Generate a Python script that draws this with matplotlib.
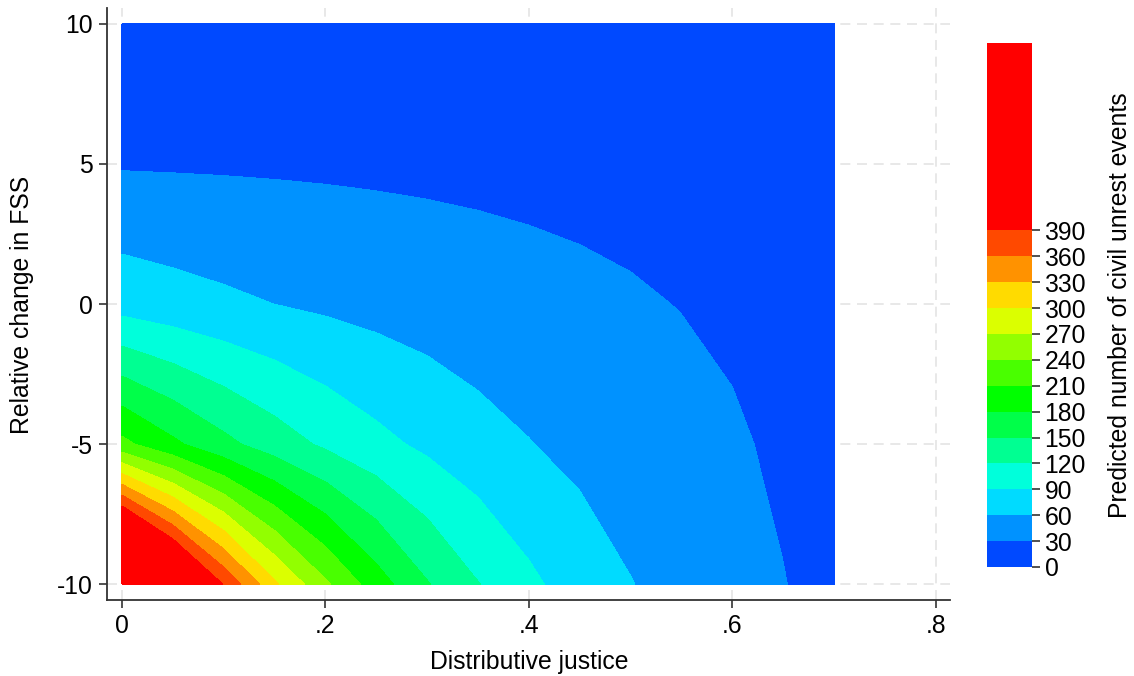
import numpy as np
from matplotlib import pyplot as plt

plt.rcParams['font.family'] = ['Liberation Sans', 'DejaVu Sans']
plt.rcParams['axes.unicode_minus'] = False

# grid of the prediction: distributive justice (columns) x relative change in FSS (rows)
justice = [0, .05, .1, .15, .2, .25, .3, .35, .4, .45, .5, .55, .6, .65, .7]
fss_change = [-10, -5, 0, 5, 10]

pred_fss_m10 = [607, 487, 388, 305, 245, 194, 152, 121, 96, 76, 61, 48, 38, 30.5, 24]
pred_fss_m5 = [218, 186, 158, 135, 115, 98, 84, 71, 61, 52, 44, 37.5, 32, 27.3, 23]
pred_fss_0 = [78, 71.4, 65.4, 59.9, 54.8, 50.2, 46.0, 42.1, 38.5, 35.3, 32.3, 29.4, 27.1, 24.8, 22.7]
pred_fss_5 = [27.6, 27.2, 26.8, 26.3, 25.8, 25.2, 24.6, 24.0, 23.4, 22.8, 22.3, 21.7, 21.2, 20.6, 20.1]
pred_fss_10 = [9.9, 10.3, 10.8, 11.3, 11.8, 12.4, 12.9, 13.5, 14.2, 14.8, 15.5, 16.2, 17.0, 17.8, 18.6]

band_colors = ['#0049FF', '#0092FF', '#00DBFF', '#00FFDB', '#00FF92', '#00FF49', '#00FF00',
               '#49FF00', '#92FF00', '#DBFF00', '#FFDB00', '#FF9200', '#FF4900', '#FF0000']

bar_ticks = list(range(0, 391, 30))
x_ticks = [0, .2, .4, .6, .8]
x_labels = ['0', '.2', '.4', '.6', '.8']
y_ticks = [-10, -5, 0, 5, 10]
y_labels = ['-10', '-5', '0', '5', '10']

z = np.array([pred_fss_m10, pred_fss_m5, pred_fss_0, pred_fss_5, pred_fss_10])
levels = bar_ticks + [z.max()]

fs = 17.8
axis_col = '#333333'

fig = plt.figure(figsize=(11.34, 6.76), dpi=100)
ax = fig.add_axes([107 / 1134, 1 - 600 / 676, 843 / 1134, 592 / 676])

ax.grid(True, color='#e4e4e4', linestyle=(0, (6, 4)), linewidth=1.2)
ax.set_axisbelow(True)
cs = ax.contourf(justice, fss_change, z, levels=levels, colors=band_colors)

ax.set_xlim(-0.0147, 0.8138)
ax.set_ylim(-10.57, 10.57)
ax.set_xticks(x_ticks, x_labels)
ax.set_yticks(y_ticks, y_labels)
for s in ['top', 'right']:
    ax.spines[s].set_visible(False)
for s in ['left', 'bottom']:
    ax.spines[s].set_color(axis_col)
    ax.spines[s].set_linewidth(1.3)
ax.tick_params(direction='out', length=6, width=1.2, color=axis_col, labelsize=fs, pad=4)

fig.text(22 / 1134, 1 - 305 / 676, 'Relative change in FSS', rotation=90,
         ha='center', va='center', fontsize=fs)
fig.text(529 / 1134, 1 - 662 / 676, 'Distributive justice', ha='center', va='center', fontsize=fs)

cax = fig.add_axes([987 / 1134, 1 - 567 / 676, 45 / 1134, 524 / 676])
cb = fig.colorbar(cs, cax=cax, ticks=bar_ticks, spacing='proportional')
cb.outline.set_visible(False)
cax.tick_params(length=6, width=1.2, color=axis_col, labelsize=fs, pad=3)
fig.text(1120 / 1134, 1 - 305 / 676, 'Predicted number of civil unrest events', rotation=90,
         ha='center', va='center', fontsize=fs)

fig.savefig('out.png', dpi=100)
